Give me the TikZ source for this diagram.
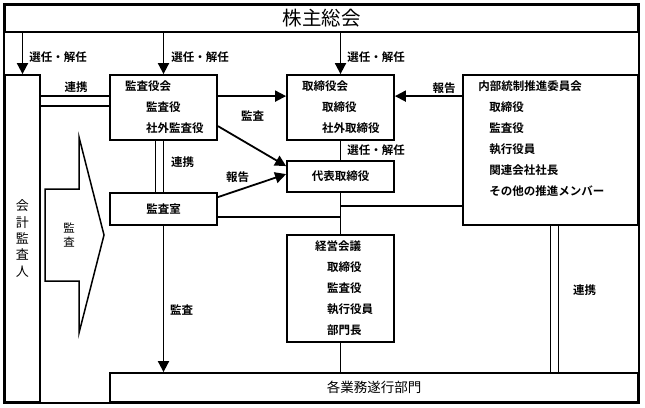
\documentclass[tikz,border=0pt]{standalone}
\usepackage{fontspec}
\setmainfont{Noto Sans CJK JP}[BoldFont={Noto Sans CJK JP Bold}]
\usetikzlibrary{arrows.meta}

\begin{document}
\begin{tikzpicture}[x=1pt, y=-1pt,
  box/.style={rectangle, draw=black, line width=1.8pt, inner sep=0pt, font=\bfseries\fontsize{11.5pt}{21pt}\selectfont},
  plain/.style={rectangle, draw=black, line width=1.8pt, inner sep=0pt},
  txt/.style={inner sep=0pt, align=left, font=\bfseries\fontsize{11.5pt}{21pt}\selectfont},
  lbl/.style={inner sep=0pt, font=\bfseries\fontsize{11.5pt}{14pt}\selectfont},
  link/.style={line width=1.8pt},
  arr/.style={line width=1.8pt, -{Triangle[length=11pt,width=11pt]}}]
\useasboundingbox (0,0) rectangle (645,407);

%%% nodes and boxes

%%% SHAREHOLDERS
\node [plain, minimum width=633pt, minimum height=27pt, font=\fontsize{19.5pt}{20pt}\selectfont] (kabunushi) at (321.5,18.5) {株主総会};

%%% ACCOUNTING AUDITOR
\node [plain, minimum width=35pt, minimum height=327pt, align=center, font=\fontsize{13pt}{16.3pt}\selectfont] (kaikei) at (22.5,238.5) {会\\計\\監\\査\\人};

%%% AUDIT BOARD
\node [box, minimum width=107pt, minimum height=65pt, text width=77pt, align=left] (kansa-kai) at (163.5,107.5) {監査役会\\ \hspace*{21pt}監査役\\ \hspace*{21pt}社外監査役};
\node [box, minimum width=107pt, minimum height=32pt] (kansashitsu) at (163.5,209) {監査室};

%%% BOARD
\node [box, minimum width=107pt, minimum height=65pt, text width=77pt, align=left] (torishimari-kai) at (340.5,107.5) {取締役会\\ \hspace*{20pt}取締役\\ \hspace*{20pt}社外取締役};
\node [box, minimum width=107pt, minimum height=31pt] (daihyo) at (340.5,176.5) {代表取締役};

%%% MANAGEMENT
\node [box, minimum width=107pt, minimum height=107pt, text width=51pt, align=left] (keiei) at (340.5,288.5) {経営会議\\ \hspace*{12pt}取締役\\ \hspace*{12pt}監査役\\ \hspace*{12pt}執行役員\\ \hspace*{12pt}部門長};

%%% INTERNAL CONTROL
\node [plain, minimum width=175pt, minimum height=150pt] (naibu) at (550.5,150) {};
\node [txt, anchor=north west] (naibu-txt) at ([shift={(16pt,-6pt)}]naibu.north west) {内部統制推進委員会\\ \hspace*{11pt}取締役\\ \hspace*{11pt}監査役\\ \hspace*{11pt}執行役員\\ \hspace*{11pt}関連会社社長\\ \hspace*{11pt}その他の推進メンバー};

%%% DIVISIONS
\node [plain, minimum width=528pt, minimum height=29pt, font=\fontsize{13.5pt}{14pt}\selectfont] (gyomu) at (374,387.5) {各業務遂行部門};

%%% outer frame and audit arrow
\draw [link] (kabunushi.north west) rectangle (gyomu.south east);
\draw [line width=1.5pt] (45,189) -- (79,189) -- (79,137) -- (104,235) -- (79,333) -- (79,281) -- (45,281) -- cycle;
\node [inner sep=0pt, align=center, font=\fontsize{11.5pt}{14pt}\selectfont] (kansa-ya) at (69,235) {監\\査};

%%% connections, arrows

\draw [arr] (kabunushi.south -| kaikei.north) -- (kaikei.north);
\draw [arr] (kabunushi.south -| kansa-kai.north) -- (kansa-kai.north);
\draw [arr] (kabunushi.south -| torishimari-kai.north) -- (torishimari-kai.north);

\coordinate (renkei-a) at ([yshift=-22pt]kansa-kai.north west);
\coordinate (renkei-b) at ([yshift=-32pt]kansa-kai.north west);
\draw [link] (renkei-a) -- (renkei-a -| kaikei.east);
\draw [link] (renkei-b) -- (renkei-b -| kaikei.east);

\draw [arr] ([yshift=-22pt]kansa-kai.north east) -- ([yshift=-22pt]torishimari-kai.north west);
\draw [arr] ([yshift=-52pt]kansa-kai.north east) -- ([yshift=-6pt]daihyo.north west);
\draw [arr] ([yshift=-5pt]kansashitsu.north east) -- ([yshift=-14pt]daihyo.north west);
\draw [arr] ([yshift=-22pt]naibu.north west) -- ([yshift=-22pt]torishimari-kai.north east);

\draw [link] (kansa-kai.south) -- (kansashitsu.north);
\draw [link] ([xshift=-8pt]kansa-kai.south) -- ([xshift=-8pt]kansashitsu.north);
\draw [arr] (kansashitsu.south) -- (kansashitsu.south |- gyomu.north);

\draw [link] (torishimari-kai.south) -- (daihyo.north);
\draw [link] (daihyo.south) -- (keiei.north);
\draw [link] (keiei.south) -- (keiei.south |- gyomu.north);

\coordinate (shitsu-r) at ([yshift=-25pt]kansashitsu.north east);
\draw [link] (shitsu-r) -- (shitsu-r -| daihyo.south);
\coordinate (naibu-l) at ([yshift=20pt]naibu.south west);
\draw [link] (naibu-l) -- (naibu-l -| daihyo.south);

\coordinate (naibu-s) at ([xshift=8pt]naibu.south);
\draw [link] (naibu.south) -- (naibu.south |- gyomu.north);
\draw [link] (naibu-s) -- (naibu-s |- gyomu.north);

%%% labels
\node [lbl] (senin-1) at (58,57) {選任・解任};
\node [lbl] (senin-2) at (200,57) {選任・解任};
\node [lbl] (senin-3) at (376,57) {選任・解任};
\node [lbl] (senin-4) at (376,150) {選任・解任};
\node [lbl] (renkei-1) at (76,87) {連携};
\node [lbl] (renkei-2) at (182.5,162) {連携};
\node [lbl] (renkei-3) at (584.5,290) {連携};
\node [lbl] (kansa-1) at (252.5,116) {監査};
\node [lbl] (kansa-2) at (181.5,310) {監査};
\node [lbl] (hokoku-1) at (237.5,177) {報告};
\node [lbl] (hokoku-2) at (444,88) {報告};

\end{tikzpicture}
\end{document}
